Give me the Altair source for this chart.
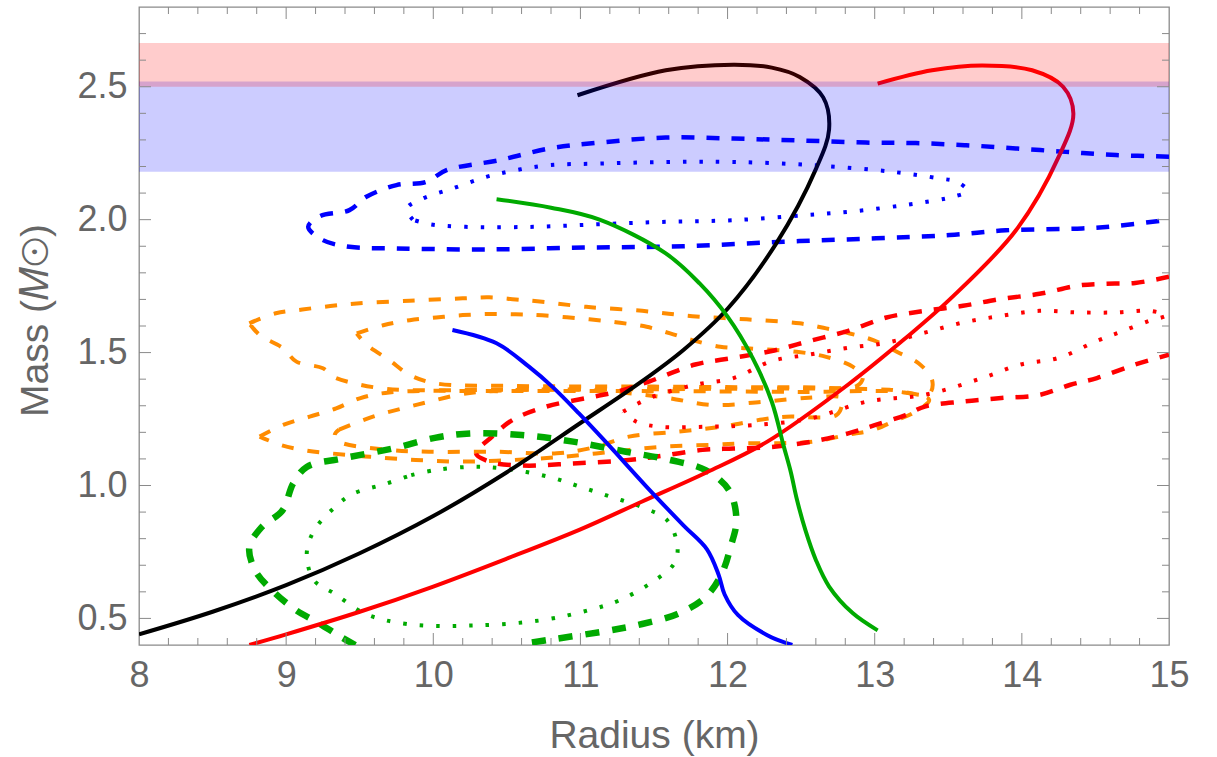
import altair as alt
import pandas as pd

# ---------------- data ----------------
x_labels = [8, 9, 10, 11, 12, 13, 14, 15]
y_labels = [0.5, 1.0, 1.5, 2.0, 2.5]
x_major_ticks = [9, 10, 11, 12, 13, 14]
x_minor_ticks = [8.2, 8.4, 8.6, 8.8, 9.2, 9.4, 9.6, 9.8, 10.2, 10.4, 10.6, 10.8,
                 11.2, 11.4, 11.6, 11.8, 12.2, 12.4, 12.6, 12.8, 13.2, 13.4, 13.6, 13.8,
                 14.2, 14.4, 14.6, 14.8]
y_major_ticks = [0.5, 1.0, 1.5, 2.0, 2.5]
y_minor_ticks = [0.6, 0.7, 0.8, 0.9, 1.1, 1.2, 1.3, 1.4, 1.6, 1.7, 1.8, 1.9,
                 2.1, 2.2, 2.3, 2.4, 2.6, 2.7]

band_lo = [2.18, 2.50]
band_hi = [2.52, 2.665]
band_color = ["#0000ff", "#ff0000"]

# solid mass-radius curves
black_x = [8.0, 8.5, 9.0, 9.5, 10.0, 10.5, 11.0, 11.4, 11.7, 12.0, 12.33, 12.6, 12.69, 12.65, 12.49, 12.3, 12.04, 11.58, 10.98]
black_y = [0.44, 0.525, 0.625, 0.745, 0.885, 1.05, 1.235, 1.385, 1.51, 1.665, 1.91, 2.19, 2.34, 2.46, 2.537, 2.572, 2.583, 2.562, 2.468]

red_x = [8.75, 9.0, 9.5, 10.0, 10.5, 11.0, 11.42, 11.86, 12.27, 12.82, 13.2, 13.51, 13.96, 14.25, 14.35, 14.28, 14.07, 13.73, 13.39, 13.02]
red_y = [0.40, 0.44, 0.525, 0.62, 0.725, 0.835, 0.94, 1.05, 1.165, 1.38, 1.55, 1.70, 1.96, 2.236, 2.40, 2.50, 2.562, 2.58, 2.562, 2.512]

green_x = [10.43, 10.8, 11.13, 11.58, 11.81, 12.0, 12.17, 12.30, 12.38, 12.43, 12.47, 12.53, 12.6, 12.69, 12.85, 13.02]
green_y = [2.077, 2.045, 2.0, 1.873, 1.76, 1.635, 1.48, 1.316, 1.151, 1.05, 0.95, 0.83, 0.72, 0.62, 0.52, 0.455]

blue_x = [10.13, 10.43, 10.65, 10.81, 10.99, 11.18, 11.45, 11.7, 11.86, 11.94, 11.98, 12.07, 12.27, 12.44]
blue_y = [1.585, 1.535, 1.447, 1.371, 1.271, 1.159, 0.995, 0.85, 0.76, 0.663, 0.59, 0.513, 0.437, 0.40]

# blue contours
bdash_x = [15.0, 14.64, 14.30, 13.96, 13.62, 13.28, 12.94, 12.49, 12.04, 11.58, 11.13, 10.79, 10.45, 10.09, 9.95, 9.75, 9.545, 9.43, 9.23, 9.15, 9.25, 9.43, 9.75, 10.34, 11.02, 11.70, 12.38, 13.01, 13.51, 13.89, 14.41, 14.64, 15.0]
bdash_y = [2.237, 2.243, 2.255, 2.268, 2.28, 2.288, 2.29, 2.298, 2.305, 2.309, 2.29, 2.268, 2.224, 2.186, 2.142, 2.13, 2.086, 2.036, 2.013, 1.973, 1.923, 1.898, 1.892, 1.888, 1.895, 1.90, 1.917, 1.93, 1.942, 1.96, 1.967, 1.976, 2.0]

bdot_x = [9.86, 9.82, 9.93, 10.13, 10.36, 10.56, 10.79, 11.13, 11.58, 12.04, 12.58, 13.12, 13.44, 13.56, 13.63, 13.53, 13.42, 13.19, 12.87, 12.53, 12.04, 11.58, 11.13, 10.68, 10.22, 9.975, 9.86]
bdot_y = [2.0, 2.042, 2.08, 2.117, 2.161, 2.186, 2.205, 2.211, 2.217, 2.217, 2.205, 2.18, 2.155, 2.142, 2.108, 2.086, 2.073, 2.054, 2.032, 2.017, 1.998, 1.992, 1.983, 1.973, 1.973, 1.983, 2.0]

# green contours
gdash_x = [9.47, 9.376, 9.21, 9.07, 8.905, 8.79, 8.75, 8.835, 8.976, 9.047, 9.14, 9.376, 9.73, 10.01, 10.25, 10.60, 10.95, 11.31, 11.61, 11.85, 12.01, 12.06, 12.02, 11.96, 11.85, 11.66, 11.42, 11.19, 10.83, 10.60]
gdash_y = [0.40, 0.429, 0.486, 0.53, 0.605, 0.68, 0.768, 0.844, 0.907, 1.007, 1.07, 1.101, 1.14, 1.179, 1.196, 1.19, 1.165, 1.127, 1.096, 1.058, 0.982, 0.869, 0.768, 0.668, 0.58, 0.517, 0.479, 0.454, 0.423, 0.404]

gdot_x = [9.85, 10.01, 10.25, 10.48, 10.79, 11.0, 11.21, 11.42, 11.59, 11.66, 11.635, 11.47, 11.26, 11.05, 10.72, 10.25, 9.82, 9.54, 9.33, 9.19, 9.14, 9.19, 9.33, 9.45, 9.68, 9.85]
gdot_y = [1.039, 1.058, 1.07, 1.064, 1.032, 0.995, 0.957, 0.918, 0.869, 0.768, 0.705, 0.63, 0.567, 0.53, 0.492, 0.473, 0.479, 0.517, 0.593, 0.643, 0.743, 0.831, 0.918, 0.968, 1.007, 1.039]

# red contours
rdash_x = [15.0, 14.77, 14.56, 14.38, 14.12, 13.86, 13.60, 13.34, 13.08, 12.82, 12.56, 12.30, 12.04, 11.78, 11.47, 11.26, 11.05, 10.77, 10.54, 10.40, 10.29, 10.38, 10.61, 10.95, 11.31, 11.56, 11.83, 12.04, 12.30, 12.56, 12.82, 13.0, 13.21, 13.34, 13.60, 13.86, 14.12, 14.33, 14.51, 14.77, 15.0]
rdash_y = [1.785, 1.762, 1.759, 1.752, 1.721, 1.702, 1.676, 1.657, 1.632, 1.582, 1.544, 1.506, 1.48, 1.455, 1.392, 1.354, 1.33, 1.297, 1.247, 1.184, 1.121, 1.09, 1.075, 1.083, 1.095, 1.112, 1.134, 1.139, 1.145, 1.164, 1.196, 1.227, 1.265, 1.297, 1.316, 1.329, 1.341, 1.379, 1.404, 1.455, 1.492]

rdot_x = [11.29, 11.47, 11.78, 12.04, 12.30, 12.56, 12.82, 13.08, 13.34, 13.60, 13.86, 14.12, 14.38, 14.64, 14.87, 14.98, 14.87, 14.69, 14.51, 14.25, 13.99, 13.73, 13.34, 12.95, 12.56, 12.17, 11.86, 11.54, 11.38, 11.29]
rdot_y = [1.278, 1.329, 1.379, 1.404, 1.468, 1.493, 1.518, 1.537, 1.575, 1.613, 1.638, 1.657, 1.651, 1.651, 1.657, 1.64, 1.62, 1.582, 1.544, 1.48, 1.455, 1.404, 1.341, 1.316, 1.252, 1.227, 1.221, 1.221, 1.24, 1.278]

# orange contours (two stars, two levels each)
o1_x = [8.75, 8.93, 9.11, 9.30, 9.48, 9.84, 10.20, 10.38, 10.56, 10.74, 11.04, 11.42, 11.76, 12.13, 12.49, 12.67, 12.83, 12.99, 13.15, 13.30, 13.39, 13.37, 13.1, 12.5, 11.5, 10.5, 9.84, 9.66, 9.48, 9.32, 9.25, 9.07, 8.98, 8.82, 8.75]
o1_y = [1.61, 1.648, 1.662, 1.675, 1.685, 1.695, 1.704, 1.708, 1.70, 1.691, 1.672, 1.657, 1.637, 1.625, 1.61, 1.591, 1.572, 1.547, 1.503, 1.459, 1.397, 1.345, 1.36, 1.365, 1.362, 1.36, 1.359, 1.365, 1.382, 1.409, 1.441, 1.466, 1.516, 1.566, 1.61]

o2_x = [9.48, 9.66, 9.84, 10.02, 10.20, 10.38, 10.56, 10.74, 11.06, 11.27, 11.45, 11.61, 11.76, 11.95, 12.13, 12.47, 12.67, 12.85, 12.92, 12.88, 12.5, 11.5, 10.5, 10.02, 9.84, 9.70, 9.55, 9.48]
o2_y = [1.572, 1.603, 1.622, 1.632, 1.641, 1.645, 1.644, 1.64, 1.625, 1.612, 1.597, 1.572, 1.547, 1.522, 1.516, 1.503, 1.484, 1.447, 1.41, 1.375, 1.37, 1.372, 1.375, 1.384, 1.416, 1.472, 1.528, 1.572]

o3_x = [8.82, 8.98, 9.16, 9.34, 9.50, 9.7, 10.5, 11.5, 12.5, 13.2, 13.37, 13.26, 13.15, 12.99, 12.81, 12.58, 12.35, 12.13, 11.90, 11.56, 11.22, 10.88, 10.54, 10.20, 9.88, 9.57, 9.30, 9.11, 8.96, 8.82]
o3_y = [1.184, 1.228, 1.259, 1.29, 1.328, 1.35, 1.355, 1.355, 1.352, 1.35, 1.322, 1.272, 1.247, 1.209, 1.19, 1.165, 1.159, 1.159, 1.153, 1.146, 1.127, 1.108, 1.096, 1.09, 1.096, 1.108, 1.121, 1.134, 1.153, 1.184]

o4_x = [9.36, 9.59, 9.79, 9.97, 10.16, 10.34, 11.0, 11.54, 11.90, 12.24, 12.55, 12.78, 12.78, 12.74, 12.40, 12.22, 11.97, 11.67, 11.33, 11.11, 10.84, 10.43, 9.97, 9.70, 9.36, 9.33, 9.36]
o4_y = [1.21, 1.259, 1.29, 1.315, 1.34, 1.353, 1.36, 1.334, 1.303, 1.315, 1.33, 1.33, 1.309, 1.265, 1.259, 1.247, 1.222, 1.203, 1.184, 1.146, 1.121, 1.127, 1.127, 1.134, 1.165, 1.19, 1.21]

# ---------------- chart ----------------
W, H = 1030, 638
GRAY = "#666666"
TICKC = "#8a8a8a"
FONT = "Liberation Sans"

xs = alt.Scale(domain=[8, 15], nice=False, zero=False)
ys = alt.Scale(domain=[0.4, 2.8], nice=False, zero=False)

x_axis = alt.Axis(values=x_labels, format="d", ticks=False, tickSize=0, domain=False,
                  grid=False, labelFlush=False, labelFontSize=36, labelColor=GRAY,
                  labelFont=FONT, labelPadding=13, title="Radius (km)",
                  titleFontSize=39, titleFont=FONT, titleColor=GRAY,
                  titleFontWeight="normal", titleBaseline="alphabetic", titleY=102)
y_axis = alt.Axis(values=y_labels, format=".1f", ticks=False, tickSize=0, domain=False,
                  grid=False, labelFontSize=36, labelColor=GRAY, labelFont=FONT,
                  labelPadding=12, title="Mass (𝑀⊙)", titleFontSize=39,
                  titleFont=FONT, titleColor=GRAY, titleFontWeight="normal",
                  titleAngle=270, titleBaseline="alphabetic", titleAlign="center",
                  titleX=-92, titleY=313)


def X(f):
    return alt.X(f, type="quantitative", scale=xs, axis=x_axis)


def Y(f):
    return alt.Y(f, type="quantitative", scale=ys, axis=y_axis)


def curve(xv, yv, color, width, dash=None, cap="butt"):
    df = pd.DataFrame({"x": xv, "y": yv, "i": list(range(len(xv)))})
    kw = dict(color=color, strokeWidth=width, clip=True, strokeCap=cap,
              strokeJoin="round", interpolate="catmull-rom")
    if dash is not None:
        kw["strokeDash"] = dash
    return alt.Chart(df).mark_line(**kw).encode(x=X("x"), y=Y("y"), order=alt.Order("i:Q"))


DASH = [13, 12]
DOT = [3.5, 13]

layers = [
    curve(o1_x, o1_y, "#ff8c00", 4, [12, 14]),
    curve(o2_x, o2_y, "#ff8c00", 4, [12, 14]),
    curve(o3_x, o3_y, "#ff8c00", 4, [12, 14]),
    curve(o4_x, o4_y, "#ff8c00", 4, [12, 14]),
    curve(rdash_x, rdash_y, "#ff0000", 4.5, DASH),
    curve(rdot_x, rdot_y, "#ff0000", 4, DOT),
    curve(bdash_x, bdash_y, "#0000ff", 4.5, DASH),
    curve(bdot_x, bdot_y, "#0000ff", 4, DOT),
    curve(gdash_x, gdash_y, "#00aa00", 6.5, [14, 13]),
    curve(gdot_x, gdot_y, "#00aa00", 4, DOT),
    curve(black_x, black_y, "#000000", 4),
    curve(red_x, red_y, "#ff0000", 4),
    curve(green_x, green_y, "#00aa00", 4),
    curve(blue_x, blue_y, "#0000ff", 4),
]

bands = alt.Chart(pd.DataFrame({"x0": [8, 8], "x1": [15, 15], "lo": band_lo,
                                "hi": band_hi, "c": band_color})).mark_rect(
    opacity=0.2).encode(x=X("x0"), x2="x1", y=Y("lo"), y2="hi",
                        color=alt.Color("c:N", scale=None))
layers.append(bands)


def xticks(vals, length, top):
    df = pd.DataFrame({"v": vals})
    y0 = 0 if top else H
    y1 = length if top else H - length
    return alt.Chart(df).mark_rule(color=TICKC, strokeWidth=1).encode(
        x=X("v"), y=alt.value(y0), y2=alt.value(y1))


def yticks(vals, length, right):
    df = pd.DataFrame({"v": vals})
    x0 = W if right else 0
    x1 = W - length if right else length
    return alt.Chart(df).mark_rule(color=TICKC, strokeWidth=1).encode(
        y=Y("v"), x=alt.value(x0), x2=alt.value(x1))


layers += [
    xticks(x_major_ticks, 12, False), xticks(x_minor_ticks, 7, False),
    xticks(x_major_ticks, 12, True), xticks(x_minor_ticks, 7, True),
    yticks(y_major_ticks, 12, False), yticks(y_minor_ticks, 7, False),
    yticks(y_major_ticks, 12, True), yticks(y_minor_ticks, 7, True),
]

chart = alt.layer(*layers).properties(
    width=W, height=H,
    padding={"left": 139, "top": 7, "right": 48, "bottom": 112},
    autosize=alt.AutoSizeParams(type="none"),
    background="white",
).configure_view(stroke="#8a8a8a", strokeWidth=1.3)

chart.save("out.html", embed_options={"renderer": "svg", "actions": False})
